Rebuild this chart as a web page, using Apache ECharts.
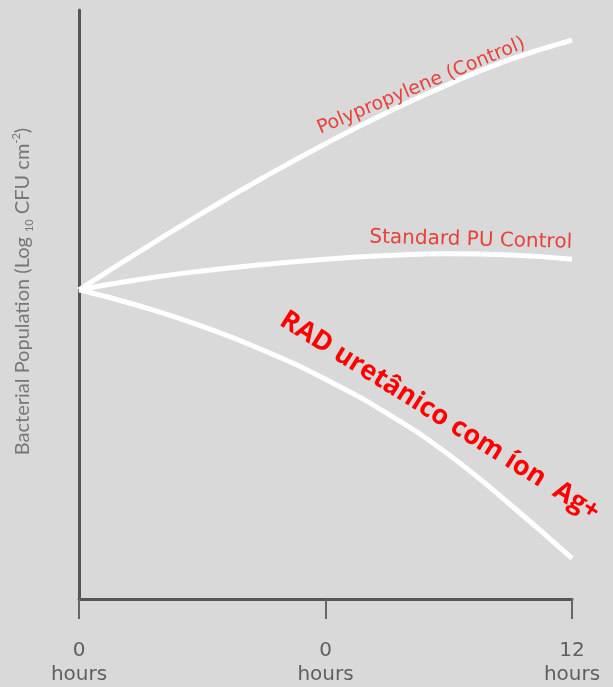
<!DOCTYPE html>
<html>
<head>
<meta charset="utf-8">
<script src="https://cdn.jsdelivr.net/npm/echarts@6/dist/echarts.min.js"></script>
<style>
  html, body { margin: 0; padding: 0; background: #d9d9d9; }
  #chart { width: 613px; height: 687px; }
</style>
</head>
<body>
<div id="chart"></div>
<script>
  // x positions (0 = first tick, 1 = middle tick, 2 = last tick)
  const xs = [0, 0.25, 0.5, 0.75, 1, 1.25, 1.5, 1.75, 2];
  const xTickLabels = ['0', '0', '12'];
  const xUnit = 'hours';

  // bacterial population (arbitrary log scale 0..10)
  const polypropylene = [5.25, 5.91, 6.55, 7.16, 7.73, 8.26, 8.74, 9.16, 9.49];
  const standardPU = [5.25, 5.43, 5.57, 5.68, 5.77, 5.83, 5.86, 5.84, 5.77];
  const radAg = [5.25, 4.97, 4.63, 4.22, 3.73, 3.15, 2.45, 1.6, 0.69];

  const seriesNames = ['Polypropylene (Control)', 'Standard PU Control', 'RAD uretânico com íon  Ag+'];

  const toPairs = (ys) => ys.map((y, i) => [xs[i], y]);

  // label anchored on one point of the curve
  const curveLabel = (ys, idx, text, style) => ({
    symbol: 'circle',
    symbolSize: 0,
    silent: true,
    itemStyle: { color: 'rgba(0,0,0,0)' },
    data: [{ coord: [xs[idx], ys[idx]] }],
    label: Object.assign({
      show: true,
      formatter: text,
      align: 'center',
      verticalAlign: 'middle',
      position: 'inside'
    }, style)
  });

  const lineStyle = { color: '#ffffff', width: 5 };

  const chart = echarts.init(document.getElementById('chart'));
  const options = {
    backgroundColor: '#d9d9d9',
    animation: false,
    grid: { left: 79, right: 41, top: 10, bottom: 86 },
    xAxis: {
      type: 'value',
      min: 0,
      max: 2,
      interval: 1,
      splitLine: { show: false },
      axisLine: { show: true, lineStyle: { color: '#555', width: 3 } },
      axisTick: { show: true, length: 20, lineStyle: { color: '#666', width: 2 } },
      axisLabel: {
        margin: 40,
        fontSize: 20,
        lineHeight: 24,
        color: '#5f5f5f',
        fontFamily: 'DejaVu Sans',
        formatter: (v) => xTickLabels[Math.round(v)] + '\n' + xUnit
      }
    },
    yAxis: {
      type: 'value',
      min: 0,
      max: 10,
      splitLine: { show: false },
      axisLine: { show: true, lineStyle: { color: '#555', width: 3 } },
      axisTick: { show: false },
      axisLabel: { show: false },
      name: 'Bacterial Population (Log {sub|10} CFU cm{sup|-2})',
      nameLocation: 'middle',
      nameGap: 44,
      nameTextStyle: {
        color: '#777',
        fontSize: 20,
        fontFamily: 'Lato',
        lineHeight: 24,
        padding: [0, 0, 0, 26],
        rich: {
          sub: { fontSize: 11, color: '#777', verticalAlign: 'bottom', lineHeight: 24 },
          sup: { fontSize: 11, color: '#777', verticalAlign: 'top', lineHeight: 24 }
        }
      }
    },
    series: [
      {
        name: seriesNames[0],
        type: 'line',
        smooth: true,
        symbol: 'none',
        lineStyle: lineStyle,
        data: toPairs(polypropylene),
        markPoint: curveLabel(polypropylene, 6, seriesNames[0], {
          offset: [-26, -9], rotate: 22.8, fontSize: 19, color: '#e8413a', fontFamily: 'DejaVu Sans'
        })
      },
      {
        name: seriesNames[1],
        type: 'line',
        smooth: true,
        symbol: 'none',
        lineStyle: lineStyle,
        data: toPairs(standardPU),
        markPoint: curveLabel(standardPU, 7, seriesNames[1], {
          offset: [-40, -14], rotate: -1.5, fontSize: 20, color: '#e8413a', fontFamily: 'DejaVu Sans'
        })
      },
      {
        name: seriesNames[2],
        type: 'line',
        smooth: true,
        symbol: 'none',
        lineStyle: lineStyle,
        data: toPairs(radAg),
        markPoint: curveLabel(radAg, 6, seriesNames[2], {
          offset: [-28, -28], rotate: -32, fontSize: 27, fontWeight: 'bold', color: '#ff0000', fontFamily: 'Open Sans'
        })
      }
    ]
  };
  chart.setOption(options);
</script>
</body>
</html>
